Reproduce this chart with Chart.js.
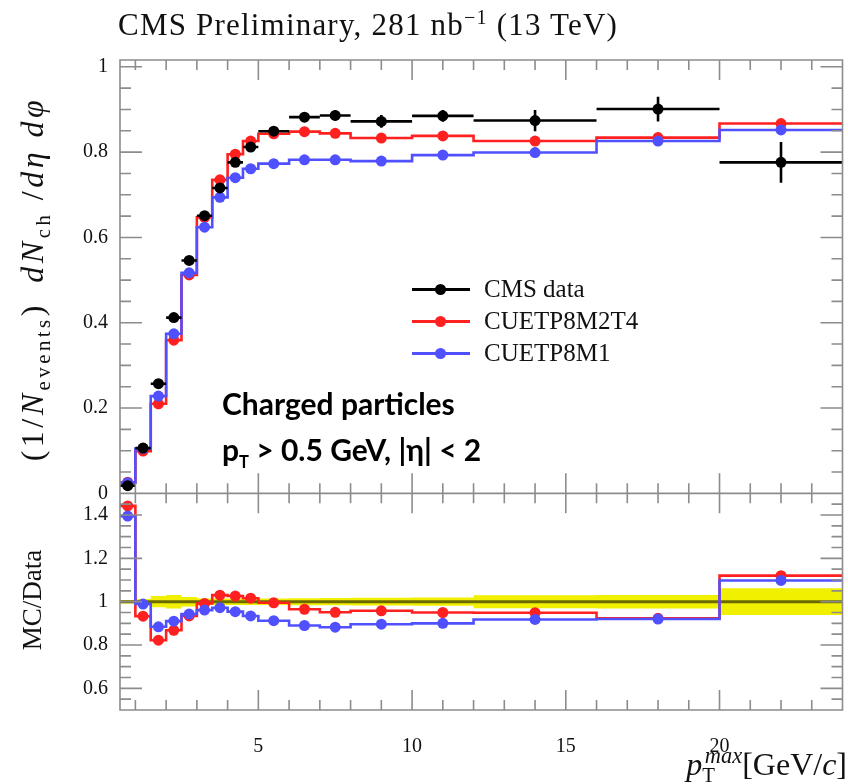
<!DOCTYPE html>
<html>
<head>
<meta charset="utf-8">
<script src="https://cdn.jsdelivr.net/npm/chart.js@4.4.1/dist/chart.umd.min.js"></script>
<style>
  body{margin:0;background:#fff;}
  #wrap{position:relative;width:848px;height:784px;overflow:hidden;}
  #wrap canvas{position:absolute;left:0;top:0;}
  .txt{position:absolute;white-space:nowrap;color:#111;font-family:"Liberation Serif",serif;line-height:1;}
  .rot{transform:translate(-50%,-50%) rotate(-90deg);transform-origin:center;}
  .note{position:absolute;white-space:nowrap;color:#000;font-family:Lato,"Open Sans",sans-serif;font-weight:700;font-size:30px;line-height:1;}
  .leg{position:absolute;left:410px;font-family:"Liberation Serif",serif;font-size:25px;color:#111;}
  .leg div{position:relative;height:32px;line-height:32px;padding-left:74px;}
  .leg i{position:absolute;left:2px;top:15px;width:58px;height:3px;}
  .leg b{position:absolute;left:25px;top:11px;width:11px;height:11px;border-radius:50%;}
  sub,sup{font-size:65%;line-height:0;}
</style>
</head>
<body>
<div id="wrap">
  <canvas id="c" width="848" height="784"></canvas>

  <div class="txt" style="left:118px;top:9px;font-size:31px;letter-spacing:1.2px;">CMS Preliminary, 281 nb<sup>−1</sup> (13 TeV)</div>

  <div class="txt rot" style="left:32px;top:279px;font-size:32px;letter-spacing:3.5px;">(1/<i>N</i><sub>events</sub>)&ensp;<i>dN</i><sub>ch</sub>&nbsp;/<i>dη&nbsp;dφ</i></div>
  <div class="txt rot" style="left:32px;top:600px;font-size:27px;">MC/Data</div>

  <div class="txt" style="right:1px;top:748px;font-size:32px;"><i>p</i><sub>T</sub><sup style="margin-left:-10px;font-size:70%"><i>max</i></sup>[GeV/<i>c</i>]</div>

  <div class="leg" style="top:273px;">
    <div><i style="background:#000"></i><b style="background:#000"></b>CMS data</div>
    <div><i style="background:#ff2020"></i><b style="background:#ff2020"></b>CUETP8M2T4</div>
    <div><i style="background:#5050ff"></i><b style="background:#5050ff"></b>CUETP8M1</div>
  </div>

  <div class="note" style="left:222px;top:388px;">Charged particles</div>
  <div class="note" style="left:222px;top:434px;">p<sub style="font-size:55%">T</sub> &gt; 0.5 GeV, |η| &lt; 2</div>
</div>

<script>
/* ---------- data ---------- */
const binEdges  = [0.5,1,1.5,2,2.5,3,3.5,4,4.5,5,6,7,8,10,12,16,20,24];
const cmsData   = [0.018,0.106,0.257,0.412,0.546,0.651,0.716,0.776,0.812,0.849,0.882,0.886,0.872,0.885,0.874,0.901,0.776];
const cmsErr    = [0.002,0.003,0.005,0.006,0.006,0.006,0.007,0.007,0.007,0.008,0.010,0.012,0.015,0.014,0.025,0.029,0.048];
const tuneM2T4  = [0.026,0.099,0.210,0.359,0.512,0.647,0.735,0.795,0.826,0.843,0.848,0.844,0.833,0.838,0.826,0.834,0.867];
const tuneM1    = [0.025,0.105,0.228,0.374,0.517,0.624,0.694,0.740,0.761,0.773,0.782,0.782,0.779,0.793,0.799,0.826,0.852];
const ratioM2T4 = [1.442,0.933,0.822,0.868,0.934,0.992,1.030,1.026,1.016,0.995,0.965,0.951,0.958,0.950,0.949,0.923,1.120];
const ratioM1   = [1.395,0.989,0.884,0.910,0.943,0.961,0.972,0.954,0.934,0.912,0.890,0.882,0.896,0.900,0.918,0.920,1.098];
const bandErr   = [0.008,0.012,0.026,0.031,0.022,0.015,0.015,0.015,0.015,0.015,0.016,0.017,0.018,0.019,0.030,0.031,0.062];

const xTicks     = [5,10,15,20];
const mainTicks  = [0,0.2,0.4,0.6,0.8,1];
const ratioTicks = [0.6,0.8,1,1.2,1.4];

/* ---------- helpers ---------- */
const RED='#ff2020', BLUE='#5050ff', YEL='#f0f000', OLIVE='#6a6a00';
const centers = binEdges.slice(0,-1).map((e,i)=>(e+binEdges[i+1])/2);
const steps = v => binEdges.map((e,i)=>({x:e,y:v[Math.min(i,v.length-1)]}));
const pts   = v => v.map((y,i)=>({x:centers[i],y}));

const stepLine=(d,col,axis,ord)=>({data:steps(d),yAxisID:axis,borderColor:col,borderWidth:2.6,
  pointRadius:0,stepped:true,fill:false,order:ord});
const dots=(d,col,axis,ord,label)=>({label,data:pts(d),yAxisID:axis,showLine:false,pointRadius:5.5,
  pointHoverRadius:5.5,pointBackgroundColor:col,pointBorderColor:col,pointBorderWidth:0,order:ord});

/* error bars for the CMS points, drawn just before the markers */
const errBars={id:'errBars',beforeDatasetDraw(c,a){
  if(c.data.datasets[a.index].label!=='CMS data') return;
  const {ctx}=c, xs=c.scales.x, ys=c.scales.y;
  ctx.save(); ctx.strokeStyle='#000'; ctx.lineWidth=2.6;
  cmsData.forEach((v,i)=>{
    const x0=xs.getPixelForValue(binEdges[i]), x1=xs.getPixelForValue(binEdges[i+1]);
    const xc=xs.getPixelForValue(centers[i]);
    const y=ys.getPixelForValue(v), ylo=ys.getPixelForValue(v-cmsErr[i]), yhi=ys.getPixelForValue(v+cmsErr[i]);
    ctx.beginPath(); ctx.moveTo(x0,y); ctx.lineTo(x1,y); ctx.moveTo(xc,ylo); ctx.lineTo(xc,yhi); ctx.stroke();
  });
  ctx.restore();
}};

/* frames + inward ticks on all four sides of both pads */
const frame={id:'frame',afterDatasetsDraw(c){
  const {ctx}=c, xs=c.scales.x;
  const seg=(a,b,d,e)=>{ctx.moveTo(a,b);ctx.lineTo(d,e);};
  ctx.save(); ctx.strokeStyle='#8c8c8c'; ctx.lineWidth=1.6; ctx.beginPath();
  for(const s of [c.scales.y,c.scales.y2]){
    const t=s.top,b=s.bottom,l=xs.left,r=xs.right;
    ctx.rect(l,t,r-l,b-t);
    for(let v=1;v<=24;v++){
      const px=xs.getPixelForValue(v), L=v%5===0?20:10;
      seg(px,b,px,b-L); seg(px,t,px,t+L);
    }
    for(let k=Math.ceil(s.min/0.05-1e-6);k*0.05<=s.max+1e-6;k++){
      const py=s.getPixelForValue(k*0.05), L=k%4===0?22:11;
      seg(l,py,l+L,py); seg(r,py,r-L,py);
    }
  }
  ctx.stroke(); ctx.restore();
}};

const serif={family:'"Liberation Serif", serif',size:20};

new Chart(document.getElementById('c'),{
  type:'line',
  data:{datasets:[
    {data:steps(bandErr.map(e=>1+e)),yAxisID:'y2',borderWidth:0,pointRadius:0,stepped:true,fill:'+1',backgroundColor:YEL,order:30},
    {data:steps(bandErr.map(e=>1-e)),yAxisID:'y2',borderWidth:0,pointRadius:0,stepped:true,fill:false,order:29},
    {data:[{x:binEdges[0],y:1},{x:binEdges[binEdges.length-1],y:1}],yAxisID:'y2',borderColor:OLIVE,borderWidth:3,pointRadius:0,order:28},
    stepLine(ratioM2T4,RED,'y2',20),
    stepLine(ratioM1,BLUE,'y2',18),
    dots(ratioM2T4,RED,'y2',19),
    dots(ratioM1,BLUE,'y2',17),
    stepLine(tuneM2T4,RED,'y',10),
    stepLine(tuneM1,BLUE,'y',8),
    dots(tuneM2T4,RED,'y',9),
    dots(tuneM1,BLUE,'y',7),
    dots(cmsData,'#000','y',1,'CMS data')
  ]},
  options:{
    responsive:false,animation:false,
    layout:{padding:{top:60,right:1,left:0,bottom:0}},
    plugins:{legend:{display:false},tooltip:{enabled:false}},
    scales:{
      x:{type:'linear',min:0.5,max:24,
         afterBuildTicks:s=>{s.ticks=xTicks.map(v=>({value:v}));},
         afterFit:s=>{s.height=74;},
         grid:{display:false,drawTicks:false},border:{display:false},
         ticks:{font:serif,color:'#111',padding:25,maxRotation:0,callback:v=>String(v)}},
      // left-stacked axes are placed bottom-up in definition order, so the ratio pad comes first
      y2:{type:'linear',position:'left',stack:'pads',stackWeight:1,min:0.5,max:1.5,
         afterBuildTicks:s=>{s.ticks=ratioTicks.map(v=>({value:v}));},
         afterFit:s=>{s.width=120;},
         grid:{display:false,drawTicks:false},border:{display:false},
         ticks:{font:serif,color:'#111',padding:12,callback:v=>String(v)}},
      y:{type:'linear',position:'left',stack:'pads',stackWeight:2,min:0,max:1.016,
         afterBuildTicks:s=>{s.ticks=mainTicks.map(v=>({value:v}));},
         afterFit:s=>{s.width=120;},
         grid:{display:false,drawTicks:false},border:{display:false},
         ticks:{font:serif,color:'#111',padding:12,callback:v=>String(v)}}
    }
  },
  plugins:[errBars,frame]
});
</script>
</body>
</html>
